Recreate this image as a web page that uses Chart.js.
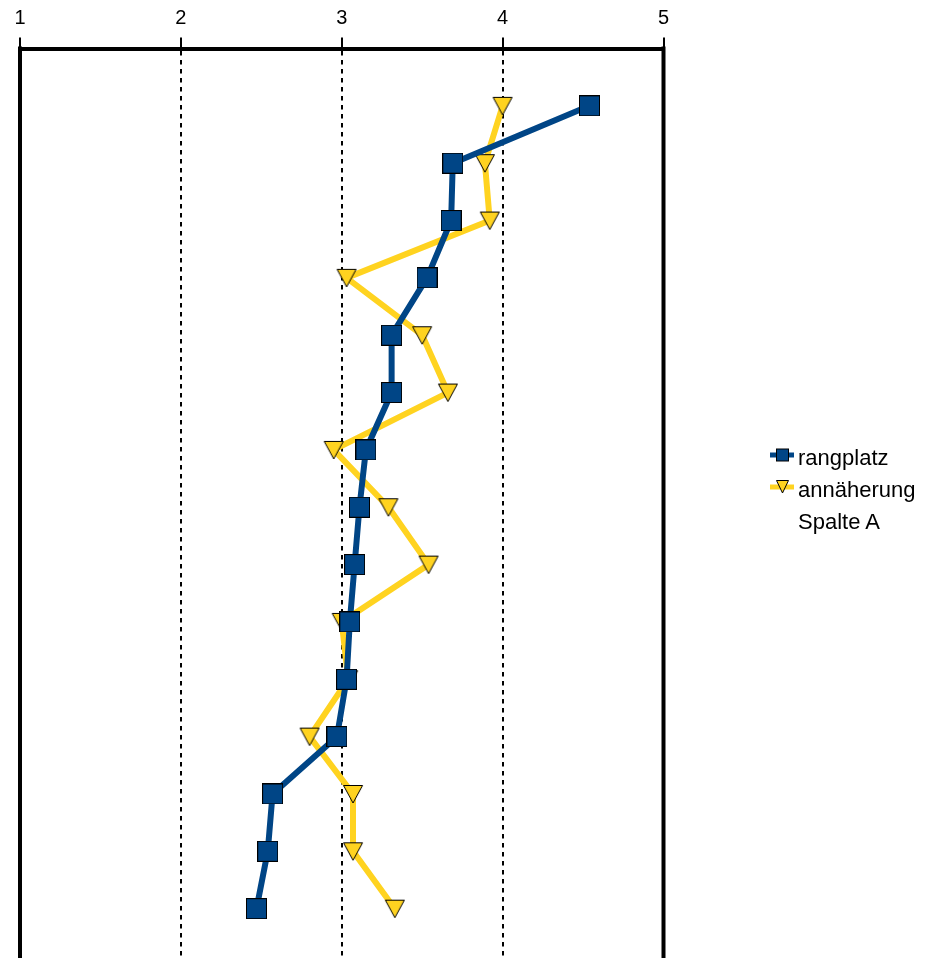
<!DOCTYPE html>
<html>
<head>
<meta charset="utf-8">
<script src="https://cdn.jsdelivr.net/npm/chart.js@4"></script>
<style>
  html, body { margin: 0; padding: 0; background: #fff; overflow: hidden; width: 929px; height: 958px; }
  #wrap { position: absolute; left: 0; top: 0; width: 929px; height: 1000px; }
  .leg { position: absolute; font-family: "Liberation Sans", Arial, sans-serif; font-size: 22px; line-height: 22px; color: #000; white-space: nowrap; }
  .sym { position: absolute; }
</style>
</head>
<body>
<div id="wrap"><canvas id="c" width="929" height="1000"></canvas></div>

<svg class="sym" style="left:768px;top:444px" width="30" height="22">
  <line x1="2" y1="11" x2="26" y2="11" stroke="#004586" stroke-width="5"/>
  <rect x="8.5" y="5" width="12" height="12" fill="#004586" stroke="#000" stroke-width="1"/>
</svg>
<div class="leg" style="left:798px;top:447px">rangplatz</div>

<svg class="sym" style="left:768px;top:476px" width="30" height="22">
  <line x1="2" y1="11" x2="26" y2="11" stroke="#ffd320" stroke-width="5"/>
  <polygon points="8.5,4.5 20.5,4.5 14.5,17" fill="#ffd320" stroke="#000" stroke-width="1"/>
</svg>
<div class="leg" style="left:798px;top:479px">annäherung</div>

<div class="leg" style="left:798px;top:511px">Spalte A</div>

<script>
// ---- data ----
const rows = [1, 2, 3, 4, 5, 6, 7, 8, 9, 10, 11, 12, 13, 14, 15];
const rangplatz = [4.54, 3.69, 3.68, 3.53, 3.31, 3.31, 3.15, 3.11, 3.08, 3.05, 3.03, 2.97, 2.57, 2.54, 2.47];
const annaeherung = [4.00, 3.89, 3.92, 3.03, 3.50, 3.66, 2.95, 3.29, 3.54, 3.00, 3.04, 2.80, 3.07, 3.07, 3.33];
const xTicks = [1, 2, 3, 4, 5];
const seriesNames = ['rangplatz', 'annäherung'];

const toPts = vals => vals.map((v, i) => ({ x: v, y: rows[i] }));

// marker images (centered on their bounding box)
function squareMarker() {
  const c = document.createElement('canvas');
  c.width = 21; c.height = 21;
  const g = c.getContext('2d');
  g.fillStyle = '#004586';
  g.fillRect(1, 1, 19, 19);
  g.strokeStyle = '#000';
  g.lineWidth = 1;
  g.strokeRect(0.5, 0.5, 20, 20);
  return c;
}
function triangleMarker() {
  const c = document.createElement('canvas');
  c.width = 22; c.height = 20;
  const g = c.getContext('2d');
  g.beginPath();
  g.moveTo(1.5, 1.5);
  g.lineTo(20.5, 1.5);
  g.lineTo(11, 19);
  g.closePath();
  g.fillStyle = '#ffd320';
  g.fill();
  g.strokeStyle = '#000';
  g.lineWidth = 1;
  g.lineJoin = 'miter';
  g.stroke();
  return c;
}

const frame = {
  id: 'frame',
  beforeDatasetsDraw(chart) {
    const { ctx, chartArea: a, scales } = chart;
    ctx.save();
    ctx.strokeStyle = '#000';
    ctx.lineWidth = 4;
    ctx.beginPath();
    const xl = scales.x.getPixelForValue(1), xr = scales.x.getPixelForValue(5);
    ctx.moveTo(xl, a.top - 2); ctx.lineTo(xl, a.bottom + 10);
    ctx.moveTo(xr, a.top - 2); ctx.lineTo(xr, a.bottom + 10);
    ctx.stroke();
    ctx.restore();
  }
};

new Chart(document.getElementById('c'), {
  type: 'scatter',
  data: {
    datasets: [
      {
        label: seriesNames[0],
        data: toPts(rangplatz),
        showLine: true,
        borderColor: '#004586',
        borderWidth: 6,
        backgroundColor: '#004586',
        pointStyle: squareMarker(),
        pointRadius: 10,
        pointHoverRadius: 10
      },
      {
        label: seriesNames[1],
        data: toPts(annaeherung),
        showLine: true,
        borderColor: '#ffd320',
        borderWidth: 6,
        backgroundColor: '#ffd320',
        pointStyle: triangleMarker(),
        pointRadius: 10,
        pointHoverRadius: 10
      }
    ]
  },
  options: {
    responsive: false,
    animation: false,
    events: [],
    layout: { padding: { left: 20, right: 265.5, top: 0, bottom: 34 } },
    plugins: { legend: { display: false }, tooltip: { enabled: false } },
    scales: {
      x: {
        type: 'linear',
        position: 'top',
        min: 1,
        max: 5,
        afterBuildTicks: s => { s.ticks = xTicks.map(v => ({ value: v })); },
        afterFit: s => { s.height = 48.5; },
        ticks: {
          color: '#000',
          font: { family: '"Liberation Sans", Arial, sans-serif', size: 20 },
          padding: 7,
          maxRotation: 0
        },
        grid: {
          color: c => (c.tick && (c.tick.value === 1 || c.tick.value === 5)) ? 'rgba(0,0,0,0)' : '#000',
          lineWidth: 2,
          tickColor: '#000',
          tickWidth: 2,
          tickLength: 11
        },
        border: { display: true, color: '#000', width: 4, dash: [4.5, 4.5] }
      },
      y: {
        type: 'linear',
        reverse: true,
        min: 0,
        max: 16,
        display: false
      }
    }
  },
  plugins: [frame]
});
</script>
</body>
</html>
